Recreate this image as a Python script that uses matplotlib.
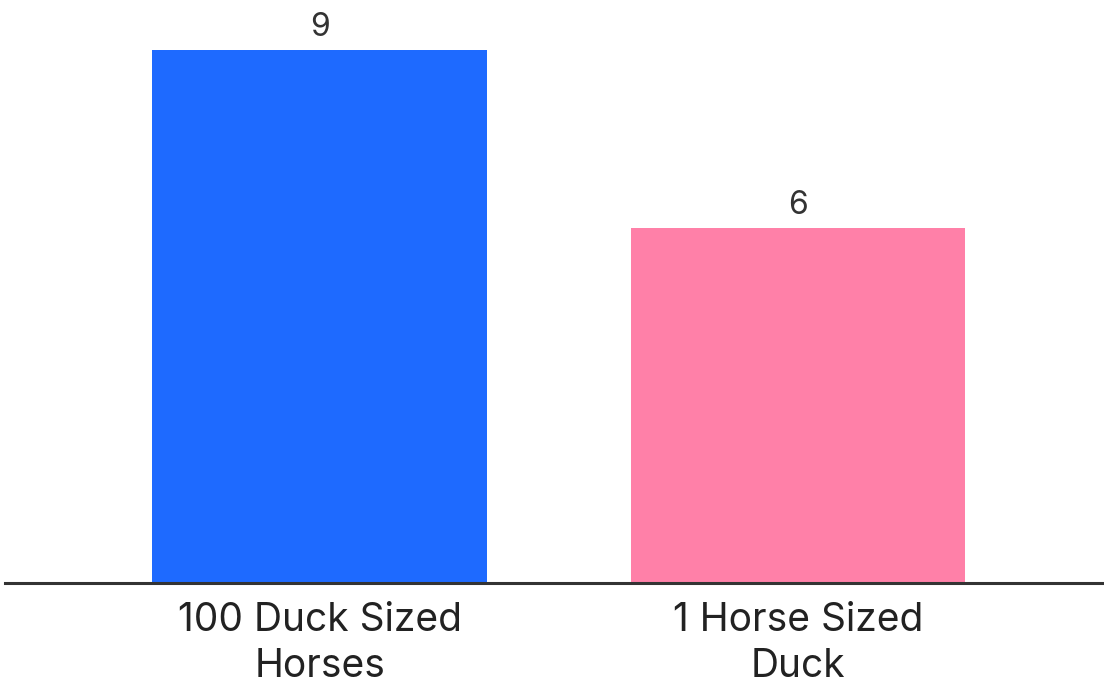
import matplotlib
matplotlib.use("Agg")
import matplotlib.pyplot as plt

categories = ["100 Duck Sized\nHorses", "1 Horse Sized\nDuck"]
votes = [9, 6]
bar_colors = ["#1E6AFF", "#FF80A8"]

plt.rcParams["font.family"] = ["Inter", "DejaVu Sans"]

fig = plt.figure(figsize=(11.04, 6.86), dpi=100)
ax = fig.add_axes([5 / 1104, 1 - 583 / 686, 1 - 5 / 1104, 583 / 686])

x = list(range(len(categories)))
bars = ax.bar(x, votes, width=0.7, color=bar_colors, zorder=2)

for rect, v in zip(bars, votes):
    ax.text(rect.get_x() + rect.get_width() / 2, v + 0.12, str(v),
            ha="center", va="bottom", fontsize=23, color="#333333")

ax.set_xlim(-0.658, 1.64)
ax.set_ylim(0, 583 / 59.22)

ax.set_xticks(x)
ax.set_xticklabels(categories, fontsize=28, color="#222222", linespacing=1.3)
ax.tick_params(axis="x", length=0, pad=14)
ax.set_yticks([])

for side in ["top", "right", "left"]:
    ax.spines[side].set_visible(False)
ax.spines["bottom"].set_color("#333333")
ax.spines["bottom"].set_linewidth(2.2)
ax.spines["bottom"].set_zorder(3)

fig.savefig("out.png", dpi=100)
